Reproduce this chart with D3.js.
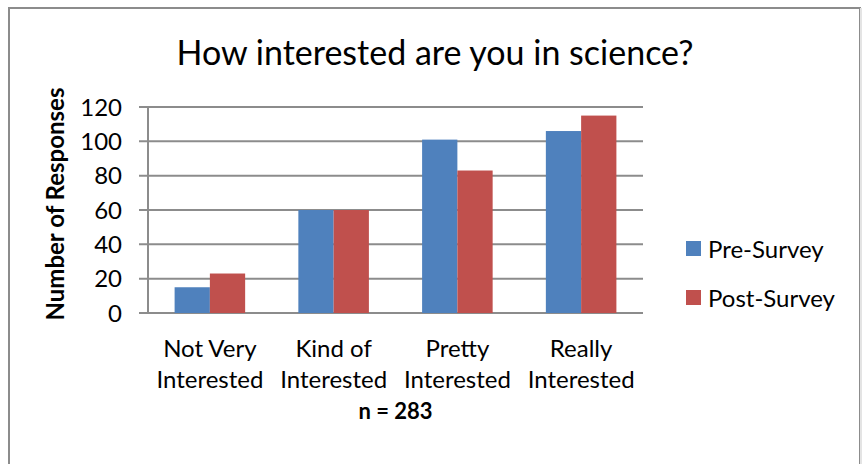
<!DOCTYPE html>
<html>
<head>
<meta charset="utf-8">
<script src="https://cdn.jsdelivr.net/npm/d3@7"></script>
<style>
  body { margin: 0; background: #fff; }
  text { font-family: Lato, "Open Sans", sans-serif; fill: #000; }
</style>
</head>
<body>
<svg id="chart"></svg>
<script>
// chart data
const categories = [["Not Very", "Interested"], ["Kind of", "Interested"], ["Pretty", "Interested"], ["Really", "Interested"]];
const seriesNames = ["Pre-Survey", "Post-Survey"];
const preSurvey = [15, 60, 101, 106];
const postSurvey = [23, 60, 83, 115];
const yTicks = [0, 20, 40, 60, 80, 100, 120];
const colors = ["#4F81BD", "#C0504D"];

const width = 862, height = 464;
const svg = d3.select('#chart').attr('width', width).attr('height', height);

// outer frame
svg.append('rect').attr('x', 9).attr('y', 8).attr('width', 851).attr('height', 470)
   .attr('fill', '#fff').attr('stroke', '#8c8c8c').attr('stroke-width', 2);
svg.append('line').attr('x1', 861).attr('x2', 861).attr('y1', 8).attr('y2', 464)
   .attr('stroke', '#e4e4e4').attr('stroke-width', 2);

const plotL = 148, plotR = 643, plotT = 107, plotB = 313;

const x0 = d3.scaleBand().domain(d3.range(categories.length))
             .range([plotL, plotR]).paddingInner(0.43).paddingOuter(0.215);
const x1 = d3.scaleBand().domain([0, 1]).range([0, x0.bandwidth()]);
const y = d3.scaleLinear().domain([0, 120]).range([plotB, plotT]);

// gridlines
svg.append('g').selectAll('line').data(yTicks).enter().append('line')
   .attr('x1', plotL - 9).attr('x2', plotR)
   .attr('y1', d => y(d)).attr('y2', d => y(d))
   .attr('stroke', '#8c8c8c').attr('stroke-width', 2);

// y axis line
svg.append('line').attr('x1', plotL).attr('x2', plotL).attr('y1', plotT).attr('y2', plotB)
   .attr('stroke', '#8c8c8c').attr('stroke-width', 2);

// y tick labels
svg.append('g').selectAll('text').data(yTicks).enter().append('text')
   .attr('x', 122).attr('y', d => y(d)).attr('dy', '0.36em')
   .attr('text-anchor', 'end').style('font-size', '24px').text(d => d);

// bars
const values = [preSurvey, postSurvey];
values.forEach((vals, s) => {
  svg.append('g').selectAll('rect').data(vals).enter().append('rect')
     .attr('x', (d, i) => x0(i) + x1(s))
     .attr('y', d => y(d))
     .attr('width', x1.bandwidth())
     .attr('height', d => y(0) - y(d))
     .attr('fill', colors[s]);
});

// category labels
const cat = svg.append('g').selectAll('text').data(categories).enter().append('text')
   .attr('text-anchor', 'middle').style('font-size', '24px')
   .attr('transform', (d, i) => `translate(${x0(i) + x0.bandwidth() / 2},0)`);
cat.append('tspan').attr('x', 0).attr('y', 357).text(d => d[0]);
cat.append('tspan').attr('x', 0).attr('y', 388).text(d => d[1]);

// x axis title
svg.append('text').attr('x', (plotL + plotR) / 2).attr('y', 419)
   .attr('text-anchor', 'middle').style('font-size', '22px').style('font-weight', 'bold')
   .text('n = 283');

// y axis title
svg.append('text').attr('transform', 'translate(64,204) rotate(-90)')
   .attr('text-anchor', 'middle').style('font-size', '24px').style('font-weight', 'bold')
   .text('Number of Responses');

// chart title
svg.append('text').attr('x', 435).attr('y', 65)
   .attr('text-anchor', 'middle').style('font-size', '34px')
   .text('How interested are you in science?');

// legend
const legend = svg.append('g').selectAll('g').data(seriesNames).enter().append('g')
   .attr('transform', (d, i) => `translate(686,${241 + i * 49})`);
legend.append('rect').attr('width', 15).attr('height', 15).attr('fill', (d, i) => colors[i]);
legend.append('text').attr('x', 22).attr('y', 8).attr('dy', '0.36em')
   .style('font-size', '24px').text(d => d);
</script>
</body>
</html>
